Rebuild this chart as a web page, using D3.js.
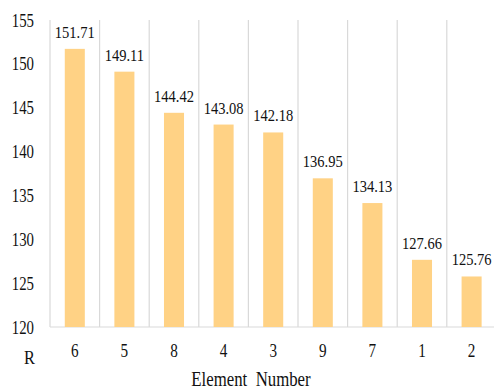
<!DOCTYPE html>
<html>
<head>
<meta charset="utf-8">
<script src="https://cdn.jsdelivr.net/npm/d3@7"></script>
<style>
  html, body { margin: 0; padding: 0; background: #fff; }
  svg { display: block; }
</style>
</head>
<body>
<svg id="chart" width="494" height="392"></svg>
<script>
// Element numbers, ordered by descending R
const categories = ["6", "5", "8", "4", "3", "9", "7", "1", "2"];
const values = [151.71, 149.11, 144.42, 143.08, 142.18, 136.95, 134.13, 127.66, 125.76];
const yTicks = [120, 125, 130, 135, 140, 145, 150, 155];

const svg = d3.select("#chart");
const plotLeft = 50, plotRight = 496.4, plotTop = 20, plotBottom = 327;

const x = d3.scaleBand().domain(categories).range([plotLeft, plotRight]).padding(0);
const y = d3.scaleLinear().domain([120, 155]).range([plotBottom, plotTop]);

const barW = x.bandwidth() * 0.404;
const grid = "#d9d9d9";

// vertical separators between categories
const edges = categories.map(c => x(c)).concat([plotRight]);
svg.append("g").selectAll("line").data(edges).join("line")
  .attr("x1", d => d).attr("x2", d => d)
  .attr("y1", y(155)).attr("y2", y(120))
  .attr("stroke", grid).attr("stroke-width", 1.2);

// baseline
svg.append("line")
  .attr("x1", plotLeft).attr("x2", plotRight)
  .attr("y1", y(120)).attr("y2", y(120))
  .attr("stroke", grid).attr("stroke-width", 1.2);

// bars
svg.append("g").selectAll("rect").data(values).join("rect")
  .attr("x", (d, i) => x(categories[i]) + x.bandwidth() / 2 - barW / 2)
  .attr("width", barW)
  .attr("y", d => y(d))
  .attr("height", d => y(120) - y(d))
  .attr("fill", "#ffd285");

// helper: horizontally condensed serif text
function label(g, tx, ty, txt, size, sx, anchor) {
  g.append("text")
    .attr("transform", `translate(${tx},${ty}) scale(${sx},1)`)
    .attr("text-anchor", anchor)
    .attr("font-family", "Liberation Serif")
    .attr("font-size", size)
    .attr("fill", "#111")
    .text(txt);
}

// value labels
const vl = svg.append("g");
values.forEach((v, i) => {
  label(vl, x(categories[i]) + x.bandwidth() / 2, y(v) - 11, v.toFixed(2), 16.5, 0.88, "middle");
});

// y axis tick labels
const yl = svg.append("g");
yTicks.forEach(t => label(yl, 34, y(t) + 6.5, String(t), 19, 0.78, "end"));

// x axis tick labels
const xl = svg.append("g");
categories.forEach(c => label(xl, x(c) + x.bandwidth() / 2, 357, c, 19, 0.8, "middle"));

// axis caption "R" and title
label(svg, 29.5, 364, "R", 19.5, 0.84, "middle");
label(svg, 251, 386, "Element\u00a0\u00a0Number", 20, 0.84, "middle");
</script>
</body>
</html>
